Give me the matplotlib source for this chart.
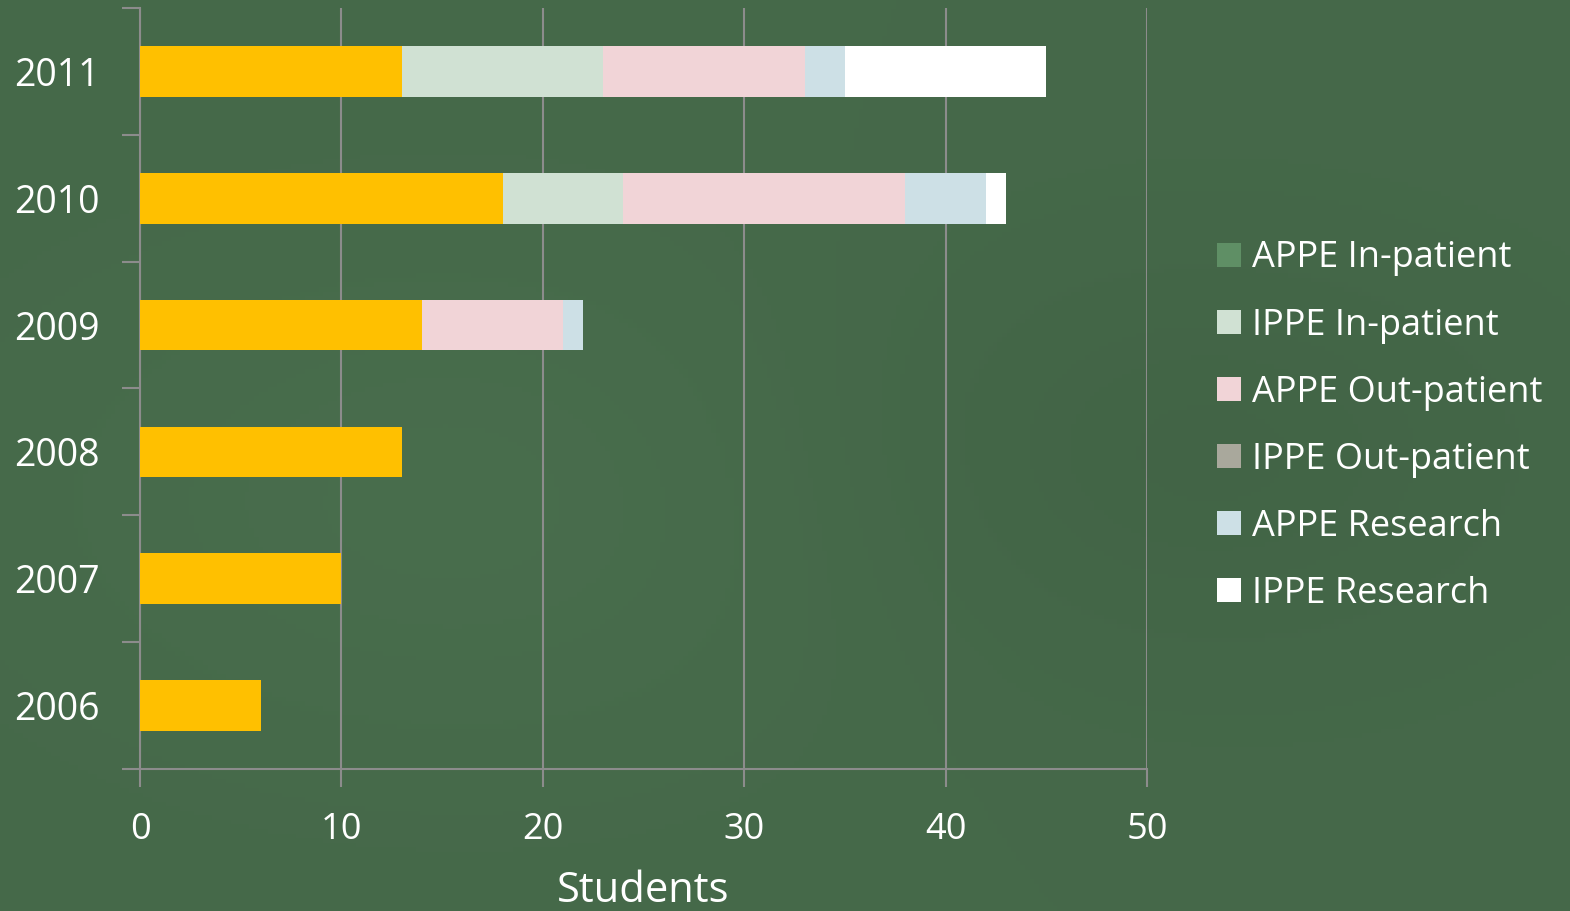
import numpy as np
import matplotlib
matplotlib.use("Agg")
import matplotlib.pyplot as plt
from matplotlib.patches import Patch

plt.rcParams['font.family'] = ['Open Sans', 'DejaVu Sans']

years = ["2006", "2007", "2008", "2009", "2010", "2011"]
base_students = [6, 10, 13, 14, 18, 13]          # yellow series (not in legend)
appe_inpatient = [0, 0, 0, 0, 0, 0]
ippe_inpatient = [0, 0, 0, 0, 6, 10]
appe_outpatient = [0, 0, 0, 7, 14, 10]
ippe_outpatient = [0, 0, 0, 0, 0, 0]
appe_research = [0, 0, 0, 1, 4, 2]
ippe_research = [0, 0, 0, 0, 1, 10]

series_names = ["APPE In-patient", "IPPE In-patient", "APPE Out-patient",
                "IPPE Out-patient", "APPE Research", "IPPE Research"]
series_values = [appe_inpatient, ippe_inpatient, appe_outpatient,
                 ippe_outpatient, appe_research, ippe_research]
series_colors = ["#5f8f65", "#d0e1d3", "#f1d4d7", "#a9a89c", "#cde0e6", "#ffffff"]
base_color = "#ffc000"

W, H = 1570, 911
fig = plt.figure(figsize=(W / 100, H / 100), dpi=100)
bg = "#466a4a"
fig.patch.set_facecolor(bg)

# subtle background gradient
bgax = fig.add_axes([0, 0, 1, 1], zorder=-10)
yy, xx = np.mgrid[0:1:200j, 0:1:340j]
g = 0.5 + 0.25 * np.exp(-((xx - 0.3) ** 2 + (yy - 0.55) ** 2) / 0.08) \
    - 0.25 * np.exp(-((xx - 0.75) ** 2 + (yy - 0.5) ** 2) / 0.06)
c1 = np.array([0x3f, 0x60, 0x43]) / 255
c2 = np.array([0x4c, 0x72, 0x50]) / 255
img = c1[None, None, :] * (1 - g[..., None]) + c2[None, None, :] * g[..., None]
bgax.imshow(img, aspect='auto', extent=[0, 1, 0, 1])
bgax.axis('off')

ax = fig.add_axes([140 / W, 1 - 769 / H, (1147 - 140) / W, (769 - 8) / H])
ax.patch.set_alpha(0)

y = np.arange(len(years))
bh = 0.40
ax.barh(y, base_students, height=bh, color=base_color, zorder=3)
left = np.array(base_students, dtype=float)
handles = []
for name, vals, col in zip(series_names, series_values, series_colors):
    ax.barh(y, vals, left=left, height=bh, color=col, zorder=3, label=name)
    left = left + np.array(vals)
    handles.append(Patch(facecolor=col, edgecolor='none', label=name))

ax.set_xlim(0, 50)
ax.set_ylim(-0.5, len(years) - 0.5)
ax.set_xticks([0, 10, 20, 30, 40, 50])
ax.set_yticks(y)
ax.set_yticklabels(years)
ax.set_yticks(np.arange(-0.5, len(years), 1.0), minor=True)

gray = "#8c8c8c"
ax.grid(axis='x', color=gray, linewidth=1.5, zorder=0)
for s in ['top', 'right']:
    ax.spines[s].set_visible(False)
for s in ['left', 'bottom']:
    ax.spines[s].set_color(gray)
    ax.spines[s].set_linewidth(1.5)
ax.tick_params(axis='y', which='major', length=0, pad=29, labelsize=27, labelcolor='white')
ax.tick_params(axis='y', which='minor', length=13, width=1.5, color=gray)
ax.tick_params(axis='x', which='major', length=13, width=1.5, color=gray,
               pad=18, labelsize=26, labelcolor='white')
ax.set_xlabel("Students", fontsize=30, color='white', labelpad=16)

fig.legend(handles=handles, loc='upper left', bbox_to_anchor=(1203 / W, 1 - 226 / H),
           frameon=False, fontsize=26, labelcolor='white',
           handlelength=0.64, handleheight=0.64, handletextpad=0.33,
           labelspacing=0.86, borderaxespad=0)

fig.savefig("out.png", dpi=100, facecolor=fig.get_facecolor())
